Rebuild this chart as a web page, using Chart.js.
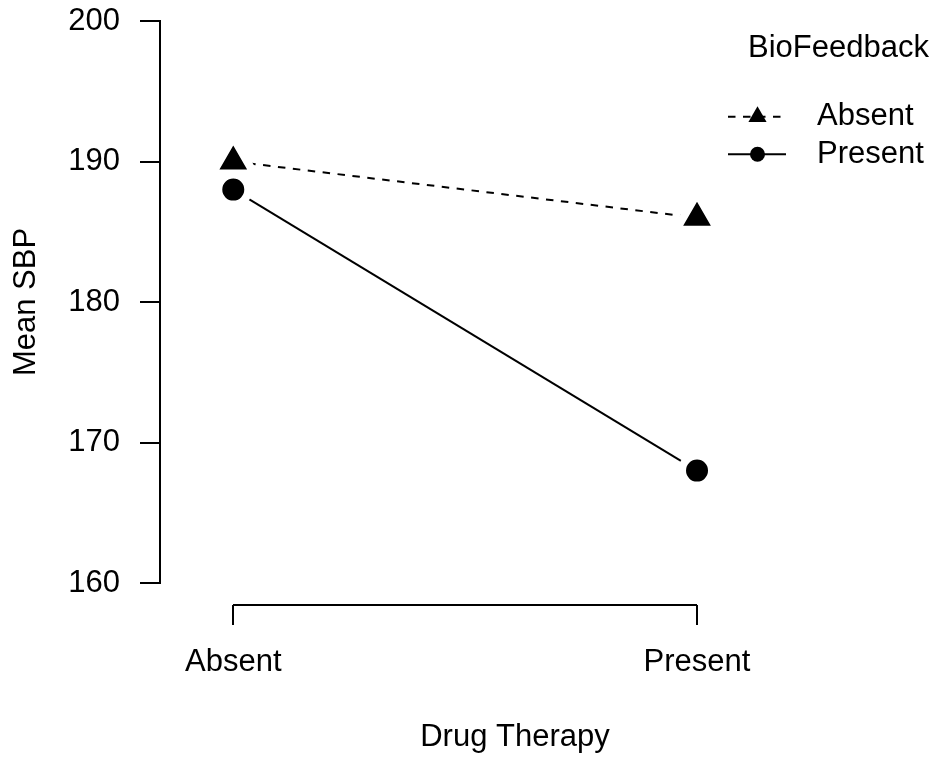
<!DOCTYPE html>
<html><head><meta charset="utf-8">
<script src="https://cdn.jsdelivr.net/npm/chart.js@4.4.1/dist/chart.umd.min.js"></script>
<style>html,body{margin:0;padding:0;background:#fff;}canvas{display:block;}</style>
</head><body>
<canvas id="c" width="937" height="759"></canvas>
<script>
// ---- data ----
const drugTherapy = ['Absent', 'Present'];
const bioAbsent = [190, 186];
const bioPresent = [188, 168];
const seriesNames = ['Absent', 'Present'];
const legendTitle = 'BioFeedback';
const yTicks = [160, 170, 180, 190, 200];
const xTitle = 'Drug Therapy';
const yTitle = 'Mean SBP';

// ---- style ----
const FONT = '"Liberation Sans", Arial, Helvetica, sans-serif';
const FS = 31;
Chart.defaults.font.family = FONT;
Chart.defaults.font.size = FS;
Chart.defaults.color = '#000';

const toPts = arr => arr.map((v, i) => ({ x: i + 1, y: v }));

// R-style bracket x axis
const rAxisX = {
  id: 'rAxisX',
  afterDraw(chart) {
    const { ctx, chartArea, scales: { x } } = chart;
    const y0 = Math.round(chartArea.bottom + 22);
    const px = drugTherapy.map((_, i) => Math.round(x.getPixelForValue(i + 1)));
    ctx.save();
    ctx.strokeStyle = '#000';
    ctx.lineWidth = 2;
    ctx.beginPath();
    ctx.moveTo(px[0], y0);
    ctx.lineTo(px[px.length - 1], y0);
    px.forEach(p => { ctx.moveTo(p, y0); ctx.lineTo(p, y0 + 20); });
    ctx.stroke();
    ctx.restore();
  }
};

// R-style legend
const rLegend = {
  id: 'rLegend',
  afterDraw(chart) {
    const ctx = chart.ctx;
    ctx.save();
    ctx.font = FS + 'px ' + FONT;
    ctx.fillStyle = '#000';
    ctx.strokeStyle = '#000';
    ctx.textBaseline = 'middle';
    ctx.textAlign = 'left';
    ctx.fillText(legendTitle, 748, 48);
    const rowY = [116.7, 154.3];
    chart.data.datasets.forEach((ds, i) => {
      const y = rowY[i];
      ctx.lineWidth = 2;
      ctx.setLineDash(ds.borderDash || []);
      ctx.beginPath();
      ctx.moveTo(728, y);
      ctx.lineTo(786, y);
      ctx.stroke();
      ctx.setLineDash([]);
      ctx.fillStyle = '#000';
      Chart.helpers.drawPoint(ctx, {
        pointStyle: ds.pointStyle,
        radius: ds.pointStyle === 'triangle' ? 10.5 : 7.5,
        rotation: 0,
        borderWidth: 0
      }, 757.5, y);
      ctx.fillText(ds.label, 817, y);
    });
    ctx.restore();
  }
};

const noPad = s => { s.paddingTop = 0; s.paddingBottom = 0; s.paddingLeft = 0; s.paddingRight = 0; };

new Chart(document.getElementById('c'), {
  type: 'line',
  data: {
    datasets: [
      {
        label: seriesNames[0],
        data: toPts(bioAbsent),
        borderColor: '#000',
        borderWidth: 2,
        borderDash: [7.5, 7.5],
        pointStyle: 'triangle',
        pointRadius: 24,
        pointHoverRadius: 24,
        pointBackgroundColor: '#000',
        pointBorderColor: '#fff',
        pointBorderWidth: 8,
        pointHoverBorderWidth: 8,
        fill: false,
        tension: 0
      },
      {
        label: seriesNames[1],
        data: toPts(bioPresent),
        borderColor: '#000',
        borderWidth: 2,
        pointStyle: 'circle',
        pointRadius: 15,
        pointHoverRadius: 15,
        pointBackgroundColor: '#000',
        pointBorderColor: '#fff',
        pointBorderWidth: 8,
        pointHoverBorderWidth: 8,
        fill: false,
        tension: 0
      }
    ]
  },
  options: {
    responsive: false,
    animation: false,
    events: [],
    layout: { autoPadding: false, padding: { top: 21, right: 67, bottom: 0, left: 0 } },
    plugins: { legend: { display: false }, tooltip: { enabled: false } },
    scales: {
      x: {
        type: 'linear',
        min: 0.842,
        max: 2.373,
        afterBuildTicks: s => { s.ticks = drugTherapy.map((_, i) => ({ value: i + 1 })); },
        afterFit: s => { s.height = 176; noPad(s); },
        ticks: {
          autoSkip: false, maxRotation: 0, padding: 61,
          callback: v => drugTherapy[Math.round(v) - 1] ?? ''
        },
        grid: { display: false, drawTicks: false },
        border: { display: false },
        title: { display: true, text: xTitle, padding: { top: 0, bottom: 3 } }
      },
      y: {
        min: 160,
        max: 200,
        afterBuildTicks: s => { s.ticks = yTicks.map(v => ({ value: v })); },
        afterFit: s => { s.width = 160; noPad(s); },
        ticks: { padding: 20 },
        grid: { display: true, drawOnChartArea: false, drawTicks: true, tickLength: 20, color: '#000', lineWidth: 2 },
        border: { display: true, color: '#000', width: 2 },
        title: { display: true, text: yTitle, padding: { top: 7.5, bottom: 0 } }
      }
    }
  },
  plugins: [rAxisX, rLegend]
});
</script>
</body></html>
